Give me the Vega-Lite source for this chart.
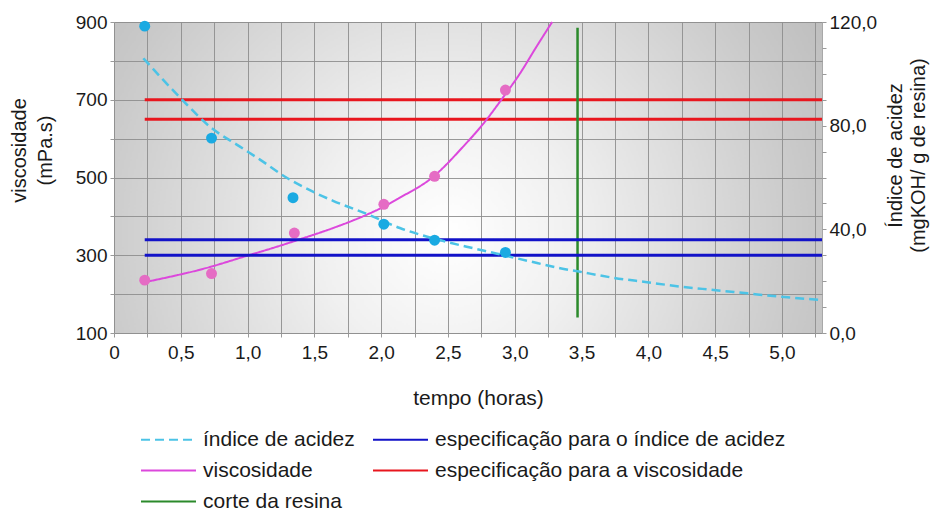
{
  "$schema": "https://vega.github.io/schema/vega-lite/v6.json",
  "width": 708,
  "height": 311,
  "autosize": {"type": "none"},
  "padding": {"left": 114, "top": 22, "right": 111, "bottom": 178},
  "background": "white",
  "config": {
    "font": "Liberation Sans",
    "view": {
      "stroke": "#a8a8a8",
      "fill": {
        "gradient": "radial",
        "x1": 0.47, "y1": 0.58, "r1": 0,
        "x2": 0.47, "y2": 0.58, "r2": 0.72,
        "stops": [
          {"offset": 0, "color": "#ffffff"},
          {"offset": 0.25, "color": "#f0f0f0"},
          {"offset": 0.7, "color": "#c9c9c9"},
          {"offset": 1, "color": "#b3b3b3"}
        ]
      }
    },
    "axis": {
      "labelFont": "Liberation Sans",
      "titleFont": "Liberation Sans",
      "labelFontSize": 19,
      "titleFontSize": 20,
      "titleFontWeight": "normal",
      "labelColor": "#1a1a1a",
      "titleColor": "#1a1a1a",
      "gridColor": "#8e8e8e",
      "gridOpacity": 0.9,
      "tickColor": "#9a9a9a",
      "tickSize": 4,
      "domain": false
    },
    "legend": {
      "labelFont": "Liberation Sans",
      "labelFontSize": 21,
      "labelColor": "#1a1a1a",
      "symbolType": "M-5.5,0H5.5",
      "symbolSize": 100,
      "symbolOffset": 18,
      "symbolStrokeWidth": 2,
      "labelOffset": 24,
      "labelLimit": 500
    }
  },
  "datasets": {
    "viscCurve": [
      {"t": 0.22, "v": 230, "serie": "viscosidade"},
      {"t": 0.72, "v": 270, "serie": "viscosidade"},
      {"t": 0.97, "v": 296, "serie": "viscosidade"},
      {"t": 1.22, "v": 322, "serie": "viscosidade"},
      {"t": 1.40, "v": 342, "serie": "viscosidade"},
      {"t": 1.64, "v": 370, "serie": "viscosidade"},
      {"t": 1.89, "v": 404, "serie": "viscosidade"},
      {"t": 2.02, "v": 425, "serie": "viscosidade"},
      {"t": 2.14, "v": 448, "serie": "viscosidade"},
      {"t": 2.39, "v": 502, "serie": "viscosidade"},
      {"t": 2.61, "v": 578, "serie": "viscosidade"},
      {"t": 2.78, "v": 645, "serie": "viscosidade"},
      {"t": 2.91, "v": 705, "serie": "viscosidade"},
      {"t": 3.04, "v": 768, "serie": "viscosidade"},
      {"t": 3.16, "v": 835, "serie": "viscosidade"},
      {"t": 3.28, "v": 900, "serie": "viscosidade"}
    ],
    "viscPts": [
      {"t": 0.23, "v": 236},
      {"t": 0.73, "v": 253},
      {"t": 1.35, "v": 357},
      {"t": 2.02, "v": 431},
      {"t": 2.40, "v": 503},
      {"t": 2.93, "v": 725}
    ],
    "viscSpec": [
      {"t": 0.23, "t2": 5.3, "v": 650, "serie": "especificação para a viscosidade"},
      {"t": 0.23, "t2": 5.3, "v": 700, "serie": "especificação para a viscosidade"}
    ],
    "corte": [
      {"t": 3.47, "v": 140, "v2": 885, "serie": "corte da resina"}
    ],
    "acidCurve": [
      {"t": 0.22, "v": 106, "serie": "índice de acidez"},
      {"t": 0.51, "v": 90, "serie": "índice de acidez"},
      {"t": 0.72, "v": 79.5, "serie": "índice de acidez"},
      {"t": 0.94, "v": 72, "serie": "índice de acidez"},
      {"t": 1.09, "v": 67, "serie": "índice de acidez"},
      {"t": 1.29, "v": 60, "serie": "índice de acidez"},
      {"t": 1.47, "v": 55, "serie": "índice de acidez"},
      {"t": 1.64, "v": 51, "serie": "índice de acidez"},
      {"t": 1.89, "v": 46, "serie": "índice de acidez"},
      {"t": 2.14, "v": 40.5, "serie": "índice de acidez"},
      {"t": 2.39, "v": 36.5, "serie": "índice de acidez"},
      {"t": 2.64, "v": 33.3, "serie": "índice de acidez"},
      {"t": 2.86, "v": 30.7, "serie": "índice de acidez"},
      {"t": 3.10, "v": 27.8, "serie": "índice de acidez"},
      {"t": 3.34, "v": 25, "serie": "índice de acidez"},
      {"t": 3.48, "v": 23.7, "serie": "índice de acidez"},
      {"t": 3.74, "v": 21.3, "serie": "índice de acidez"},
      {"t": 3.99, "v": 19.6, "serie": "índice de acidez"},
      {"t": 4.24, "v": 17.9, "serie": "índice de acidez"},
      {"t": 4.49, "v": 16.6, "serie": "índice de acidez"},
      {"t": 4.74, "v": 15.3, "serie": "índice de acidez"},
      {"t": 4.99, "v": 14.0, "serie": "índice de acidez"},
      {"t": 5.30, "v": 12.7, "serie": "índice de acidez"}
    ],
    "acidPts": [
      {"t": 0.23, "v": 118.4},
      {"t": 0.73, "v": 75.2},
      {"t": 1.34, "v": 52.2},
      {"t": 2.02, "v": 42},
      {"t": 2.40, "v": 35.8},
      {"t": 2.93, "v": 31.1}
    ],
    "acidSpec": [
      {"t": 0.23, "t2": 5.3, "v": 30, "serie": "especificação para o índice de acidez"},
      {"t": 0.23, "t2": 5.3, "v": 36, "serie": "especificação para o índice de acidez"}
    ]
  },
  "encoding": {
    "x": {
      "field": "t",
      "type": "quantitative",
      "scale": {"domain": [0, 5.3], "nice": false, "zero": false},
      "axis": {
        "values": [0, 0.25, 0.5, 0.75, 1, 1.25, 1.5, 1.75, 2, 2.25, 2.5, 2.75, 3, 3.25, 3.5, 3.75, 4, 4.25, 4.5, 4.75, 5, 5.25],
        "labelExpr": "datum.value == 0 ? '0' : ((datum.value * 2) % 1 == 0 ? replace(format(datum.value, '.1f'), '.', ',') : '')",
        "labelFlush": false,
        "labelPadding": 6,
        "grid": true,
        "title": "tempo (horas)",
        "titleFontSize": 21,
        "titleX": 364,
        "titleY": 71,
        "titleBaseline": "alphabetic"
      }
    }
  },
  "layer": [
    {
      "encoding": {
        "y": {
          "field": "v",
          "type": "quantitative",
          "scale": {"domain": [100, 900], "nice": false, "zero": false},
          "axis": {
            "orient": "left",
            "values": [100, 200, 300, 400, 500, 600, 700, 800, 900],
            "labelExpr": "datum.value % 200 == 100 ? datum.label : ''",
            "grid": true,
            "labelPadding": 3,
            "title": ["viscosidade", "(mPa.s)"],
            "titleAngle": -90,
            "titleAlign": "center",
            "titleBaseline": "alphabetic",
            "titleLineHeight": 26,
            "titleX": -89,
            "titleY": 128
          }
        }
      },
      "layer": [
        {
          "data": {"name": "viscSpec"},
          "mark": {"type": "rule", "strokeWidth": 3},
          "encoding": {
            "x2": {"field": "t2"},
            "color": {
              "field": "serie", "type": "nominal",
              "scale": {
                "domain": ["índice de acidez", "viscosidade", "corte da resina", "especificação para o índice de acidez", "especificação para a viscosidade"],
                "range": ["#4cc3e6", "#dc48dc", "#2b8a2b", "#1212c8", "#e8161e"]
              },
              "legend": {"title": null, "orient": "none", "legendX": 26, "legendY": 407, "columns": 2, "columnPadding": 14, "rowPadding": 9}
            },
            "strokeDash": {
              "field": "serie", "type": "nominal",
              "scale": {
                "domain": ["índice de acidez", "viscosidade", "corte da resina", "especificação para o índice de acidez", "especificação para a viscosidade"],
                "range": [[9, 5], [1, 0], [1, 0], [1, 0], [1, 0]]
              },
              "legend": {"title": null, "orient": "none", "legendX": 26, "legendY": 407, "columns": 2, "columnPadding": 14, "rowPadding": 9}
            }
          }
        },
        {
          "data": {"name": "viscCurve"},
          "mark": {"type": "line", "strokeWidth": 2, "interpolate": "monotone"},
          "encoding": {
            "color": {"field": "serie", "type": "nominal"},
            "strokeDash": {"field": "serie", "type": "nominal"}
          }
        },
        {
          "data": {"name": "viscPts"},
          "mark": {"type": "circle", "size": 120, "opacity": 1, "color": "#e56cc4"},
          "encoding": {}
        },
        {
          "data": {"name": "corte"},
          "mark": {"type": "rule", "strokeWidth": 2.5},
          "encoding": {
            "y2": {"field": "v2"},
            "color": {"field": "serie", "type": "nominal"},
            "strokeDash": {"field": "serie", "type": "nominal"}
          }
        }
      ]
    },
    {
      "encoding": {
        "y": {
          "field": "v",
          "type": "quantitative",
          "scale": {"domain": [0, 120], "nice": false},
          "axis": {
            "orient": "right",
            "values": [0, 10, 20, 30, 40, 50, 60, 70, 80, 90, 100, 110, 120],
            "labelExpr": "datum.value % 40 == 0 ? replace(format(datum.value, '.1f'), '.', ',') : ''",
            "grid": false,
            "labelPadding": 3,
            "title": ["Índice de acidez", "(mgKOH/ g de resina)"],
            "titleAngle": -90,
            "titleAlign": "center",
            "titleBaseline": "alphabetic",
            "titleLineHeight": 23,
            "titleX": 79,
            "titleY": 133
          }
        }
      },
      "layer": [
        {
          "data": {"name": "acidSpec"},
          "mark": {"type": "rule", "strokeWidth": 3},
          "encoding": {
            "x2": {"field": "t2"},
            "color": {"field": "serie", "type": "nominal"},
            "strokeDash": {"field": "serie", "type": "nominal"}
          }
        },
        {
          "data": {"name": "acidCurve"},
          "mark": {"type": "line", "strokeWidth": 2.5, "interpolate": "monotone"},
          "encoding": {
            "color": {"field": "serie", "type": "nominal"},
            "strokeDash": {"field": "serie", "type": "nominal"}
          }
        },
        {
          "data": {"name": "acidPts"},
          "mark": {"type": "circle", "size": 120, "opacity": 1, "color": "#1aaae2"},
          "encoding": {}
        }
      ]
    }
  ],
  "resolve": {"scale": {"y": "independent"}}
}
